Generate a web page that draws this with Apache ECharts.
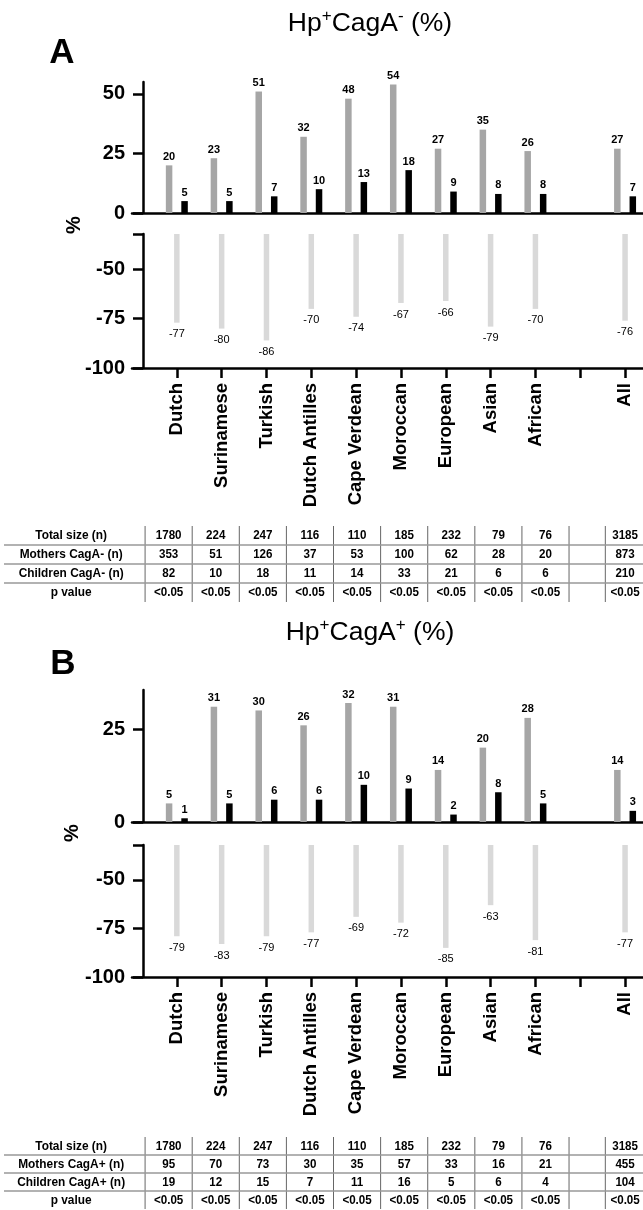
<!DOCTYPE html>
<html><head><meta charset="utf-8">
<script src="https://cdn.jsdelivr.net/npm/echarts@6/dist/echarts.min.js"></script>
<style>html,body{margin:0;padding:0;background:#fff}#c{width:643px;height:1210px}</style>
</head><body><div id="c"></div>
<script>
// ---------------- DATA ----------------
const categories = ['Dutch','Surinamese','Turkish','Dutch Antilles','Cape Verdean','Moroccan','European','Asian','African','','All'];
// Panel A: Hp+CagA- (%)
const mothersNegPct  = [20, 23, 51, 32, 48, 54, 27, 35, 26, null, 27];
const childrenNegPct = [5, 5, 7, 10, 13, 18, 9, 8, 8, null, 7];
const reductionNeg   = [-77, -80, -86, -70, -74, -67, -66, -79, -70, null, -76];
// Panel B: Hp+CagA+ (%)
const mothersPosPct  = [5, 31, 30, 26, 32, 31, 14, 20, 28, null, 14];
const childrenPosPct = [1, 5, 6, 6, 10, 9, 2, 8, 5, null, 3];
const reductionPos   = [-79, -83, -79, -77, -69, -72, -85, -63, -81, null, -77];
// Tables
const totalSize    = ['1780','224','247','116','110','185','232','79','76','','3185'];
const mothersNegN  = ['353','51','126','37','53','100','62','28','20','','873'];
const childrenNegN = ['82','10','18','11','14','33','21','6','6','','210'];
const mothersPosN  = ['95','70','73','30','35','57','33','16','21','','455'];
const childrenPosN = ['19','12','15','7','11','16','5','6','4','','104'];
const pValues      = ['<0.05','<0.05','<0.05','<0.05','<0.05','<0.05','<0.05','<0.05','<0.05','','<0.05'];
const rowLabelsA = ['Total size (n)', 'Mothers CagA- (n)', 'Children CagA- (n)', 'p value'];
const rowLabelsB = ['Total size (n)', 'Mothers CagA+ (n)', 'Children CagA+ (n)', 'p value'];
const upperTicksA = [0, 25, 50];
const upperTicksB = [0, 25];
const lowerTicks  = [-100, -75, -50];

// ---------------- STYLE / LAYOUT ----------------
const SANS = "'Liberation Sans', Arial, Helvetica, sans-serif";
const NARROW = "'Liberation Sans Narrow', 'Arial Narrow', 'Liberation Sans', Arial, sans-serif";
const GRAY = '#a6a6a6', LIGHT = '#d9d9d9', BLACK = '#000';
const AXW = 2.5;
const LOWER_MAX = -32;

const chart = echarts.init(document.getElementById('c'), null, {renderer: 'canvas'});

const idx = categories.map((c, i) => i);
const labelIdx = idx.filter(i => categories[i] !== '');
const pairs = arr => arr.map((v, i) => v == null ? null : [i, v]).filter(Boolean);

const grids = [
  {left: 132, right: 0, top: 82,  height: 131},   // A upper
  {left: 132, right: 0, top: 234, height: 134},   // A lower
  {left: 132, right: 0, top: 690, height: 132},   // B upper
  {left: 132, right: 0, top: 845, height: 132},   // B lower
  {left: 0, right: 0, top: 526, height: 76},      // table A
  {left: 0, right: 0, top: 1137, height: 72}      // table B
];

function chartX(gridIndex, withLabels) {
  return {
    type: 'value', gridIndex, min: -1, max: 10.4, position: 'bottom',
    splitLine: {show: false},
    axisLine: {show: true, onZero: false, lineStyle: {color: BLACK, width: AXW}},
    axisTick: withLabels ? {show: true, inside: false, length: 10, customValues: idx, lineStyle: {color: BLACK, width: AXW}} : {show: false},
    axisLabel: withLabels ? {
      show: true, rotate: 90, margin: 15, customValues: labelIdx,
      formatter: v => categories[Math.round(v)],
      fontFamily: SANS, fontWeight: 'bold', fontSize: 18.5, color: BLACK
    } : {show: false}
  };
}
function chartY(gridIndex, min, max, labelVals, tickVals) {
  return {
    type: 'value', gridIndex, min, max, offset: -11,
    splitLine: {show: false},
    axisLine: {show: true, onZero: false, lineStyle: {color: BLACK, width: AXW}},
    axisTick: {show: true, length: 10, customValues: tickVals, lineStyle: {color: BLACK, width: AXW}},
    axisLabel: {show: true, customValues: labelVals, margin: 18, fontFamily: SANS, fontWeight: 'bold', fontSize: 20, color: BLACK}
  };
}
function tableX(gridIndex) {
  return {type: 'value', gridIndex, min: -3.08, max: 10.57, show: false};
}
function tableY(gridIndex) {
  return {type: 'value', gridIndex, min: -0.5, max: 3.5, inverse: true, show: false};
}

const upperLabel = {show: true, position: 'top', distance: 3, fontFamily: NARROW, fontWeight: 'bold', fontSize: 11, color: BLACK};
const lowerLabel = {show: true, position: 'outside', distance: 6, fontFamily: NARROW, fontSize: 11, color: BLACK};

function barSeries(data, xi, color, width, label, gap) {
  return {
    type: 'bar', xAxisIndex: xi, yAxisIndex: xi, data: pairs(data),
    barWidth: width, barGap: gap || '138%', itemStyle: {color}, label, silent: true, animation: false
  };
}

// table geometry in column units
const colCenter = i => i <= 8 ? i + 0.5 : (i === 10 ? 10.19 : 9.385);
const HEADER_X = -1.57;
const colEdges = [0, 1, 2, 3, 4, 5, 6, 7, 8, 9, 9.77];

function tableSeries(ti, rowLabels, rows) {
  const cells = [];
  rowLabels.forEach((lab, r) => {
    cells.push([HEADER_X, r, lab, true]);
    rows[r].forEach((v, i) => { if (v !== '') cells.push([colCenter(i), r, v, false]); });
  });
  const textSeries = {
    type: 'custom', xAxisIndex: ti, yAxisIndex: ti, silent: true, animation: false, clip: false,
    data: cells.map(c => [c[0], c[1]]), encode: {x: 0, y: 1},
    renderItem: (params, api) => {
      const c = cells[params.dataIndex];
      const p = api.coord([c[0], c[1]]);
      return {type: 'text', x: p[0], y: p[1], scaleX: c[3] ? 0.88 : 0.86, style: {
        text: c[2], x: 0, y: 0, align: 'center', verticalAlign: 'middle', fill: BLACK,
        font: 'bold 13.5px ' + NARROW
      }};
    }
  };
  const lines = [];
  colEdges.forEach(e => lines.push(['v', e]));
  [0.5, 1.5, 2.5].forEach(e => lines.push(['h', e]));
  const lineSeries = {
    type: 'custom', xAxisIndex: ti, yAxisIndex: ti, silent: true, animation: false, clip: false,
    data: lines.map((l, k) => [k, 0]), encode: {x: 0, y: 1},
    renderItem: (params, api) => {
      const l = lines[params.dataIndex];
      const cs = params.coordSys;
      if (l[0] === 'v') {
        const x = api.coord([l[1], 0])[0];
        return {type: 'line', shape: {x1: x, y1: cs.y, x2: x, y2: cs.y + cs.height}, style: {stroke: '#666', lineWidth: 1}};
      }
      const y = api.coord([0, l[1]])[1];
      return {type: 'line', shape: {x1: cs.x + 4, y1: y, x2: cs.x + cs.width, y2: y}, style: {stroke: '#999', lineWidth: 1.4}};
    }
  };
  return [lineSeries, textSeries];
}

function titleText(sign, y) {
  return {
    type: 'text', x: 370, y, silent: true,
    style: {
      text: '{a|Hp}{s|+}{a|CagA}{s|' + sign + '}{a| (%)}',
      align: 'center', verticalAlign: 'middle',
      rich: {
        a: {fontFamily: SANS, fontSize: 26.5, lineHeight: 32, fill: BLACK},
        s: {fontFamily: SANS, fontSize: 17, lineHeight: 20, verticalAlign: 'top', fill: BLACK}
      }
    }
  };
}
function letter(t, x, y) {
  return {type: 'text', x, y, silent: true, style: {text: t, font: 'bold 35px ' + SANS, fill: BLACK, align: 'center', verticalAlign: 'middle'}};
}
function pct(x, y) {
  return {type: 'text', x, y, rotation: Math.PI / 2, silent: true, style: {text: '%', font: 'bold 20px ' + SANS, fill: BLACK, align: 'center', verticalAlign: 'middle'}};
}

const option = {
  backgroundColor: '#fff',
  animation: false,
  grid: grids,
  xAxis: [chartX(0, false), chartX(1, true), chartX(2, false), chartX(3, true), tableX(4), tableX(5)],
  yAxis: [
    chartY(0, 0, 55, upperTicksA, upperTicksA),
    chartY(1, -100, LOWER_MAX, lowerTicks, lowerTicks.concat([LOWER_MAX])),
    chartY(2, 0, 35.5, upperTicksB, upperTicksB),
    chartY(3, -100, LOWER_MAX, lowerTicks, lowerTicks.concat([LOWER_MAX])),
    tableY(4), tableY(5)
  ],
  series: [
    barSeries(mothersNegPct, 0, GRAY, 6.5, upperLabel),
    barSeries(childrenNegPct, 0, BLACK, 6.5, upperLabel),
    barSeries(reductionNeg, 1, LIGHT, 5.5, lowerLabel),
    barSeries(mothersPosPct, 2, GRAY, 6.5, upperLabel),
    barSeries(childrenPosPct, 2, BLACK, 6.5, upperLabel),
    barSeries(reductionPos, 3, LIGHT, 5.5, lowerLabel),
    ...tableSeries(4, rowLabelsA, [totalSize, mothersNegN, childrenNegN, pValues]),
    ...tableSeries(5, rowLabelsB, [totalSize, mothersPosN, childrenPosN, pValues])
  ],
  graphic: [
    titleText('-', 24), titleText('+', 633),
    letter('A', 62, 53), letter('B', 63, 664),
    pct(74, 225), pct(72, 833)
  ]
};
chart.setOption(option);
</script></body></html>
